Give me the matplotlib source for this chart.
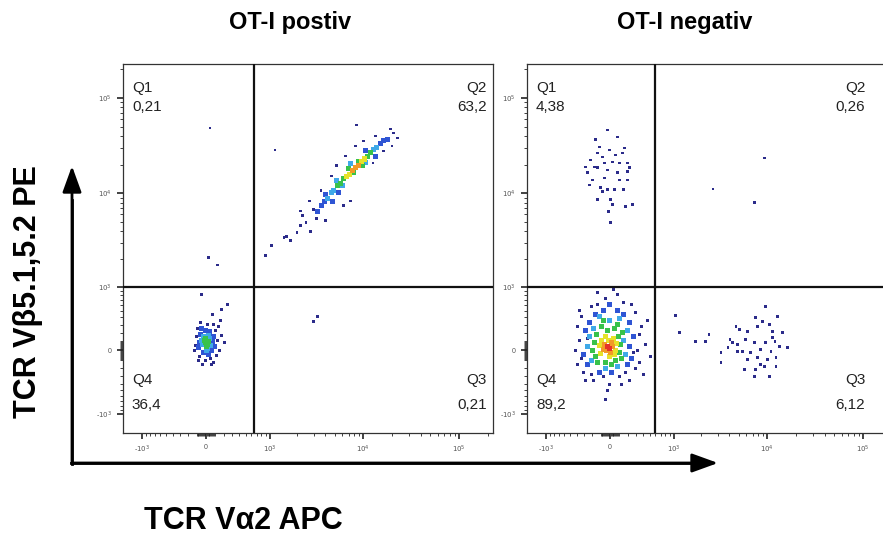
import numpy as np
import matplotlib.pyplot as plt

plt.rcParams['font.family'] = ['Liberation Sans', 'DejaVu Sans']

# events: (x value, y value, density level 0..6)
# ---- OT-I postiv ----
pos_q2 = [
    (8300, 18500, 5), (9000, 19800, 5), (7700, 17200, 5),
    (7200, 15600, 4), (9600, 21800, 4), (6700, 14900, 4), (10400, 22900, 4),
    (5800, 12800, 3), (6200, 14200, 3), (11100, 24600, 3), (12000, 26500, 3), (5400, 12000, 3),
    (7900, 16400, 3), (8800, 21800, 3), (7000, 18000, 3), (9900, 19400, 3),
    (4900, 10600, 2), (4600, 10100, 2), (12900, 28500, 2), (13800, 29900, 2), (5200, 13500, 2),
    (10600, 20800, 2), (6100, 12000, 2), (7400, 20300, 2), (4200, 8800, 2),
    (3900, 8300, 1), (3600, 7400, 1), (15200, 32900, 1), (16400, 35400, 1), (4000, 9600, 1),
    (4800, 8300, 1), (13500, 24600, 1), (3300, 6500, 1), (18000, 37100, 1), (5500, 10100, 1),
    (10600, 27800, 1),
    (3000, 6800, 0), (2500, 4900, 0), (2200, 4600, 0), (2000, 3900, 0), (1700, 3200, 0),
    (1550, 3500, 0), (2300, 5800, 0), (2800, 4000, 0), (3600, 10600, 0), (3200, 5400, 0),
    (20800, 42900, 0), (19400, 47200, 0), (22900, 38000, 0), (6500, 24600, 0), (8300, 31400, 0),
    (4600, 15200, 0), (2700, 8300, 0), (2200, 6500, 0), (1450, 3400, 0), (5200, 19400, 0),
    (13500, 39900, 0), (10100, 35400, 0), (1050, 2800, 0), (900, 2200, 0), (7400, 8300, 0),
    (6200, 7400, 0), (4000, 5200, 0), (16400, 27800, 0), (12600, 20800, 0), (19900, 31400, 0),
    (1150, 28500, 0), (8500, 52000, 0),
]
pos_q4 = [
    (0, 87, 3), (22, 65, 3), (-11, 110, 3), (11, 43, 3), (33, 98, 3), (0, 132, 3),
    (-33, 65, 2), (43, 132, 2), (-22, 155, 2), (54, 54, 2), (22, 22, 2), (-43, 110, 2),
    (33, 166, 2), (11, 0, 2),
    (-65, 87, 1), (76, 98, 1), (-54, 178, 1), (65, 0, 1), (-22, -22, 1), (87, 155, 1),
    (-76, 33, 1), (43, 213, 1), (0, 225, 1), (-43, 250, 1), (98, 43, 1), (33, -43, 1),
    (-110, 54, 0), (-98, 155, 0), (132, 110, 0), (110, 225, 0), (-87, 250, 0), (155, 0, 0),
    (-65, -65, 0), (54, -87, 0), (0, -110, 0), (-33, -155, 0), (87, -132, 0), (120, -54, 0),
    (178, 166, 0), (-120, 0, 0), (22, 301, 0), (-54, 327, 0), (87, 301, 0), (143, 275, 0),
    (213, 87, 0), (65, -155, 0), (-76, -110, 0), (76, 442, 0), (178, 522, 0), (250, 609, 0),
    (-43, 810, 0), (166, 354, 0),
]
pos_other = [
    (45, 48400, 0), (33, 2100, 0), (130, 1740, 0),
    (3000, 340, 0), (3300, 410, 0),
]

# ---- OT-I negativ ----
neg_q4 = [
    (-22, 43, 6), (0, 22, 6),
    (-54, 65, 5), (22, 87, 5), (-33, 0, 5), (11, -22, 5), (-65, 11, 5), (33, 43, 5),
    (-87, 110, 4), (43, 132, 4), (-43, 155, 4), (65, 0, 4), (-98, -33, 4), (0, -65, 4),
    (-11, 110, 4), (54, -43, 4), (-110, 54, 4), (76, 76, 4),
    (-143, 178, 3), (98, 155, 3), (-22, 225, 3), (110, -22, 3), (-155, -65, 3), (-43, -132, 3),
    (65, -110, 3), (-166, 87, 3), (120, 65, 3), (54, 250, 3), (-87, 275, 3), (-132, -132, 3),
    (22, -155, 3), (87, 301, 3), (-65, 354, 3), (143, 201, 3), (-190, 0, 3), (132, -87, 3),
    (-225, 155, 2), (155, 110, 2), (-201, -110, 2), (178, -43, 2), (0, 354, 2), (-110, 412, 2),
    (110, 382, 2), (-43, -201, 2), (87, -178, 2), (-250, 43, 2), (201, 225, 2), (-178, 250, 2),
    (-275, 225, 1), (225, 43, 1), (-250, -155, 1), (201, -155, 1), (-65, 505, 1), (87, 505, 1),
    (-155, 442, 1), (155, 442, 1), (-301, -43, 1), (275, 155, 1), (22, -250, 1), (-110, -250, 1),
    (250, -87, 1), (-225, 327, 1), (225, 327, 1), (0, 609, 1),
    (-354, 110, 0), (-327, -87, 0), (-382, 275, 0), (327, 0, 0), (354, 178, 0), (301, -201, 0),
    (-301, -250, 0), (-201, -275, 0), (-65, -301, 0), (110, -301, 0), (178, -250, 0),
    (-327, 412, 0), (301, 473, 0), (-201, 570, 0), (155, 645, 0), (-43, 725, 0), (87, 805, 0),
    (-132, 860, 0), (382, 275, 0), (442, 65, 0), (522, -65, 0), (412, -275, 0), (-412, 0, 0),
    (-275, -354, 0), (0, -412, 0), (225, -354, 0), (-22, -505, 0), (-354, 505, 0), (250, 609, 0),
    (-250, 130, 0), (275, -22, 0), (-132, 609, 0), (43, 933, 0), (-178, -354, 0), (473, 354, 0),
    (354, -132, 0), (-382, -155, 0), (132, -412, 0), (-43, -660, 0),
]
neg_q1 = [
    (-22, 46100), (-132, 26500), (-76, 24000), (0, 28500), (65, 25200), (143, 26500),
    (-213, 22400), (-166, 18900), (-54, 20800), (33, 21300), (110, 20800), (201, 20800),
    (-250, 16400), (-132, 18500), (-22, 17600), (87, 16400), (225, 18500), (-190, 13800),
    (-54, 14500), (110, 13800), (-98, 11400), (-22, 10900), (54, 10900), (-76, 10350),
    (11, 8550), (33, 7570), (178, 7200), (260, 7570), (11, 4900), (-110, 30600),
    (166, 29900), (201, 16800), (-275, 18900), (201, 13800), (-155, 36700), (87, 38900),
    (-225, 12200), (155, 10900), (-132, 8550), (-11, 6400),
]
neg_q3 = [
    (1060, 427), (1175, 201), (1740, 98), (2220, 98), (2440, 178), (3260, -22), (3260, -132),
    (4050, 121), (4680, 275), (5150, 237), (6240, 213), (7570, 397), (7940, 275), (8960, 340),
    (9630, 575), (10600, 301), (11400, 213), (12850, 412), (14500, 201), (12000, 98),
    (9630, 87), (7390, 87), (5950, 121), (4910, 65), (4340, 87), (5535, -11), (6710, -22),
    (8550, 11), (10900, -11), (13500, 43), (16400, 33), (4910, -11), (6240, -98), (7940, -76),
    (10100, -98), (12300, -178), (9400, -178), (7570, -213), (5810, -213), (10600, -301),
    (7390, -301), (8550, -155), (3860, 33), (12300, -76), (11400, 143),
]
neg_q2 = [(2690, 11100), (7390, 8050), (9400, 23400)]

pos_pct = ['0,21', '63,2', '0,21', '36,4']   # Q1, Q2, Q3, Q4
neg_pct = ['4,38', '0,26', '6,12', '89,2']
pos_gate = (645, 1000)
neg_gate = (590, 1000)

major_ticks = [-1000, 0, 1000, 10000, 100000]
major_labels = ['-$10^3$', '0', '$10^3$', '$10^4$', '$10^5$']
minor_ticks = (list(range(-900, 1000, 100)) + list(range(-90, 100, 10))
               + list(range(2000, 10000, 1000)) + list(range(20000, 100000, 10000)) + [200000])

level_colors = ['#2b2b8a', '#2f55d4', '#3fa9e8', '#38c24a', '#e6e22a', '#f29a26', '#e5332a']


def draw_events(ax, pts):
    pts = np.array(pts, dtype=float)
    if pts.shape[1] == 2:
        pts = np.column_stack([pts, np.zeros(len(pts))])
    pts = pts[np.argsort(pts[:, 2], kind='stable')]
    lvl = pts[:, 2].astype(int)
    sizes = np.where(lvl == 0, 4, 13)
    ax.scatter(pts[:, 0], pts[:, 1], c=[level_colors[l] for l in lvl], s=sizes,
               marker='s', linewidths=0, zorder=2)


def setup_panel(ax, gate, pct, right_x):
    for axis in ('x', 'y'):
        getattr(ax, 'set_%sscale' % axis)('asinh', linear_width=450)
    ax.set_xlim(-1620, 227000)
    ax.set_ylim(-1620, 227000)
    for axis in (ax.xaxis, ax.yaxis):
        axis.set_major_locator(plt.FixedLocator(major_ticks))
        axis.set_major_formatter(plt.FixedFormatter(major_labels))
        axis.set_minor_locator(plt.FixedLocator(minor_ticks))
        axis.set_minor_formatter(plt.NullFormatter())
    ax.tick_params(which='major', length=4, width=1.2, labelsize=5, colors='#222',
                   labelcolor='#555', pad=4)
    ax.tick_params(which='minor', length=2, width=0.6, colors='#222')
    for s in ax.spines.values():
        s.set_linewidth(0.9)
        s.set_color('#333')
    ax.axvline(gate[0], color='#111', lw=1.6, zorder=3)
    ax.axhline(gate[1], color='#111', lw=1.6, zorder=3)
    kw = dict(transform=ax.transAxes, fontsize=11, color='#222', va='center')
    ax.text(0.024, 0.935, 'Q1', ha='left', **kw)
    ax.text(0.024, 0.883, pct[0], ha='left', **kw)
    ax.text(right_x, 0.935, 'Q2', ha='right', **kw)
    ax.text(right_x, 0.883, pct[1], ha='right', **kw)
    ax.text(0.024, 0.144, 'Q4', ha='left', **kw)
    ax.text(0.024, 0.076, pct[3], ha='left', **kw)
    ax.text(right_x, 0.144, 'Q3', ha='right', **kw)
    ax.text(right_x, 0.076, pct[2], ha='right', **kw)


fig = plt.figure(figsize=(8.83, 5.44), dpi=100)
W, H = 883, 544

ax1 = fig.add_axes([123 / W, 111 / H, 370 / W, 369 / H])
ax2 = fig.add_axes([527 / W, 111 / H, 370 / W, 369 / H])

setup_panel(ax1, pos_gate, pos_pct, 0.984)
setup_panel(ax2, neg_gate, neg_pct, 0.914)

draw_events(ax1, pos_q4)
draw_events(ax1, pos_q2)
draw_events(ax1, pos_other)
draw_events(ax2, neg_q4)
draw_events(ax2, neg_q1)
draw_events(ax2, neg_q3)
draw_events(ax2, neg_q2)

fig.text(290 / W, 1 - 23 / H, 'OT-I postiv', ha='center', va='center',
         fontsize=17, fontweight='bold')
fig.text(685 / W, 1 - 23 / H, 'OT-I negativ', ha='center', va='center',
         fontsize=17, fontweight='bold')

# big axis arrows
cx, cy = 72 / W, 1 - 463 / H
ap = dict(arrowstyle='-|>,head_length=1.6,head_width=0.58', lw=2, color='black',
          shrinkA=0, shrinkB=0, mutation_scale=10)
fig.add_artist(plt.Line2D([cx, cx], [cy - 1 / H, 1 - 200 / H], color='black', lw=2))
fig.add_artist(plt.Line2D([cx - 1 / W, 690 / W], [cy, cy], color='black', lw=2))
plt.annotate('', xy=(cx, 1 - 166 / H), xytext=(cx, cy), xycoords='figure fraction',
             textcoords='figure fraction', arrowprops=ap)
plt.annotate('', xy=(718 / W, cy), xytext=(cx, cy), xycoords='figure fraction',
             textcoords='figure fraction', arrowprops=ap)

fig.text(28 / W, 1 - 292 / H, 'TCR Vβ5.1,5.2 PE', rotation=90, ha='center', va='center',
         fontsize=22, fontweight='bold')
fig.text(243 / W, 1 - 521 / H, 'TCR Vα2 APC', ha='center', va='center',
         fontsize=22, fontweight='bold')

fig.savefig('out.png', dpi=100)
